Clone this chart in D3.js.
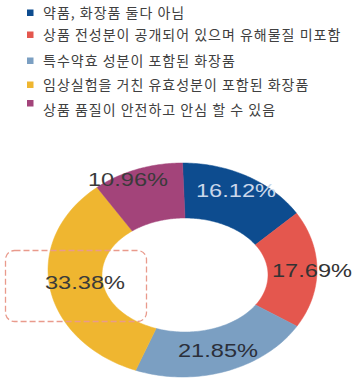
<!DOCTYPE html>
<html>
<head>
<meta charset="utf-8">
<script src="https://cdn.jsdelivr.net/npm/d3@7"></script>
<style>
  body { margin: 0; background: #fff; }
  svg { display: block; }
</style>
</head>
<body>
<div id="chart"></div>
<script>
const categories = [
  "약품, 화장품 둘다 아님",
  "상품 전성분이 공개되어 있으며 유해물질 미포함",
  "특수약효 성분이 포함된 화장품",
  "임상실험을 거친 유효성분이 포함된 화장품",
  "상품 품질이 안전하고 안심 할 수 있음"
];
const shares = [16.12, 17.69, 21.85, 33.38, 10.96];
const valueLabels = ["16.12%", "17.69%", "21.85%", "33.38%", "10.96%"];
const colors = ["#0d4c8f", "#e4574e", "#7b9fc2", "#efb630", "#a3447a"];

const W = 361, H = 390;
const svg = d3.select("#chart").append("svg")
  .attr("width", W)
  .attr("height", H);

// legend
const legendY = [12.5, 35, 61, 85, 110]
  , squareY = [12.5, 34.5, 60.5, 84.5, 103];

const legend = svg.append("g");
categories.forEach((c, i) => {
  legend.append("rect")
    .attr("x", 27)
    .attr("y", squareY[i] - 3)
    .attr("width", 6.5)
    .attr("height", 6.5)
    .style("fill", colors[i]);
  legend.append("text")
    .attr("x", 43)
    .attr("y", legendY[i])
    .attr("dy", "0.36em")
    .style("font-family", "'Noto Sans CJK KR', sans-serif")
    .style("font-size", "14px")
    .style("letter-spacing", "1px")
    .style("fill", "#404040")
    .text(c);
});

// donut, slightly elliptical (outer and inner ellipses differ)
const outer = {cx: 182.5, cy: 270, rx: 134.5, ry: 107}
  , inner = {cx: 185, cy: 275, rx: 83, ry: 57};

const pie = d3.pie().sort(null).value(d => d);
const arcs = pie(shares);

function ellipsePoint(e, a) {
  return [e.cx + e.rx * Math.sin(a), e.cy - e.ry * Math.cos(a)];
}

function sectorPoints(d) {
  const steps = 60;
  const pts = [];
  for (let s = 0; s <= steps; s++) {
    const a = d.startAngle + (d.endAngle - d.startAngle) * s / steps;
    pts.push(ellipsePoint(outer, a));
  }
  for (let s = steps; s >= 0; s--) {
    const a = d.startAngle + (d.endAngle - d.startAngle) * s / steps;
    pts.push(ellipsePoint(inner, a));
  }
  return pts;
}

const line = d3.line().curve(d3.curveLinearClosed);

svg.append("g").selectAll("path")
  .data(arcs)
  .enter().append("path")
  .attr("d", d => line(sectorPoints(d)))
  .style("fill", (d, i) => colors[i])
  .style("stroke", (d, i) => colors[i])
  .style("stroke-width", 0.5);

// highlight box around the largest share
svg.append("rect")
  .attr("x", 5.5)
  .attr("y", 250.5)
  .attr("width", 141)
  .attr("height", 71)
  .attr("rx", 9)
  .style("fill", "none")
  .style("stroke", "#e99a8c")
  .style("stroke-width", 1.3)
  .style("stroke-dasharray", "6,3");

// value labels
const labelPos = [[236, 190], [312, 270], [218, 350], [85, 282], [128, 179]];
const labelColor = ["#c9d7ea", "#333", "#2b2f3a", "#3a3a3a", "#3a3a3a"];

svg.append("g").selectAll("text")
  .data(arcs)
  .enter().append("text")
  .attr("x", (d, i) => labelPos[i][0])
  .attr("y", (d, i) => labelPos[i][1])
  .attr("dy", "0.36em")
  .attr("text-anchor", "middle")
  .attr("textLength", 80)
  .attr("lengthAdjust", "spacingAndGlyphs")
  .style("font-family", "'Liberation Sans', Arial, sans-serif")
  .style("font-size", "19px")
  .style("fill", (d, i) => labelColor[i])
  .text((d, i) => valueLabels[i]);
</script>
</body>
</html>
